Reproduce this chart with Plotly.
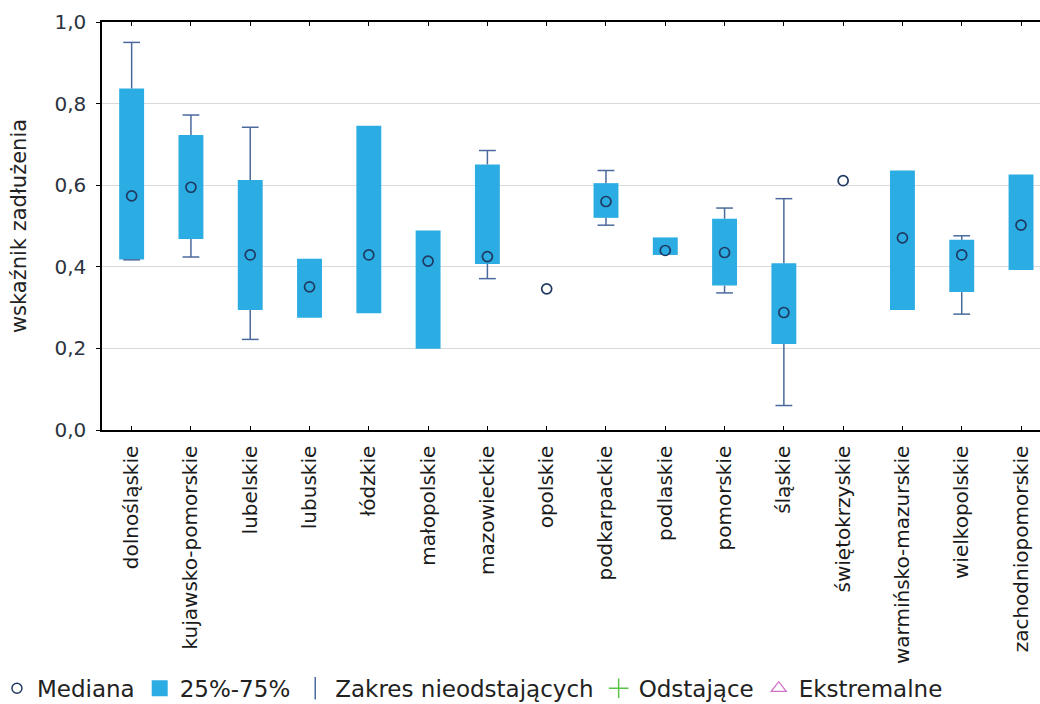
import plotly.graph_objects as go

categories = ["dolnośląskie", "kujawsko-pomorskie", "lubelskie", "lubuskie", "łódzkie",
              "małopolskie", "mazowieckie", "opolskie", "podkarpackie", "podlaskie",
              "pomorskie", "śląskie", "świętokrzyskie", "warmińsko-mazurskie",
              "wielkopolskie", "zachodniopomorskie"]
median = [0.574, 0.595, 0.429, 0.351, 0.429, 0.414, 0.425, 0.346, 0.560, 0.440,
          0.435, 0.288, 0.611, 0.471, 0.429, 0.502]
q1 = [0.418, 0.468, 0.294, 0.275, 0.286, 0.199, 0.407, None, 0.520, 0.429,
      0.354, 0.211, None, 0.294, 0.338, 0.392]
q3 = [0.837, 0.723, 0.613, 0.420, 0.746, 0.489, 0.651, None, 0.605, 0.472,
      0.518, 0.409, None, 0.636, 0.466, 0.626]
whisker_low = [0.417, 0.424, 0.222, None, None, None, 0.371, None, 0.502, None,
               0.336, 0.060, None, None, 0.284, None]
whisker_high = [0.950, 0.772, 0.742, None, None, None, 0.685, None, 0.636, None,
                0.544, 0.567, None, None, 0.476, None]

y_ticks = [0.0, 0.2, 0.4, 0.6, 0.8, 1.0]
legend_names = ["Mediana", "25%-75%", "Zakres nieodstających", "Odstające", "Ekstremalne"]

BOX = "#2BACE2"
WHISK = "#4A6A9E"
MED = "#1F3A62"
FONT = "DejaVu Sans"

fig = go.Figure()

# IQR boxes
heights = [(b - a) if (a is not None and b is not None) else None for a, b in zip(q1, q3)]
fig.add_trace(go.Bar(x=categories, y=heights, base=q1, width=0.42,
                     marker=dict(color=BOX, line=dict(width=0)),
                     name=legend_names[1], showlegend=False))

# whisker segments
wx, wy = [], []
cx, cy = [], []
for c, lo, a, b, hi in zip(categories, whisker_low, q1, q3, whisker_high):
    if hi is not None:
        wx += [c, c, None]
        wy += [b, hi, None]
        cx.append(c); cy.append(hi)
    if lo is not None:
        wx += [c, c, None]
        wy += [lo, a, None]
        cx.append(c); cy.append(lo)
fig.add_trace(go.Scatter(x=wx, y=wy, mode="lines", line=dict(color=WHISK, width=1.5),
                         showlegend=False, hoverinfo="skip"))
fig.add_trace(go.Scatter(x=cx, y=cy, mode="markers",
                         marker=dict(symbol="line-ew", size=12, line=dict(color=WHISK, width=1.5)),
                         showlegend=False, hoverinfo="skip"))

# medians
fig.add_trace(go.Scatter(x=categories, y=median, mode="markers",
                         marker=dict(symbol="circle-open", size=10, color=MED, line=dict(width=1.7)),
                         showlegend=False))

# legend-only entries
fig.add_trace(go.Scatter(x=[None], y=[None], mode="markers", name=legend_names[0],
                         marker=dict(symbol="circle-open", size=10, color=MED, line=dict(width=1.5))))
fig.add_trace(go.Scatter(x=[None], y=[None], mode="markers", name=legend_names[1],
                         marker=dict(symbol="square", size=20, color=BOX)))
fig.add_trace(go.Scatter(x=[None], y=[None], mode="markers", name=legend_names[2],
                         marker=dict(symbol="line-ns", size=24, line=dict(color=WHISK, width=1.5))))
fig.add_trace(go.Scatter(x=[None], y=[None], mode="markers", name=legend_names[3],
                         marker=dict(symbol="cross-thin", size=14, line=dict(color="#5CC24A", width=1.5))))
fig.add_trace(go.Scatter(x=[None], y=[None], mode="markers", name=legend_names[4],
                         marker=dict(symbol="triangle-up-open", size=13, color="#D070C8", line=dict(width=1.3))))

fig.update_layout(
    width=1040, height=704,
    margin=dict(l=102, r=0, t=22, b=274, autoexpand=False),
    paper_bgcolor="white", plot_bgcolor="white",
    separators=", ",
    font=dict(family=FONT, color="#333333", size=20),
    showlegend=True,
    legend=dict(orientation="h", x=-0.112, xanchor="left", y=-0.633, yanchor="middle",
                font=dict(size=23, color="#222222"), itemwidth=30,
                tracegroupgap=0, bgcolor="rgba(0,0,0,0)"),
)
fig.update_xaxes(type="category", categoryorder="array", categoryarray=categories,
                 range=[-0.5, 15.32], tickangle=-90, tickfont=dict(size=20, color="#1A1A1A"),
                 showline=True, linecolor="black", linewidth=1.5, mirror="ticks",
                 ticks="inside", ticklen=4, tickcolor="black", showgrid=False,
                 ticklabelstandoff=6, automargin=False)
fig.update_yaxes(range=[0, 1.0], tickvals=y_ticks, tickformat=".1f",
                 tickfont=dict(size=20, color="#2B3340"),
                 showline=True, linecolor="black", linewidth=1.5,
                 ticks="outside", ticklen=4, tickcolor="black",
                 showgrid=True, gridcolor="#D9D9D9", gridwidth=1.2, zeroline=False,
                 ticklabelstandoff=6, automargin=False,
                 title=dict(text="wskaźnik zadłużenia", font=dict(size=21, color="#222222"), standoff=22))

fig.write_html("out.html", config={"displayModeBar": False},
               post_script="document.body.style.margin='0px';document.body.style.overflow='hidden';")
